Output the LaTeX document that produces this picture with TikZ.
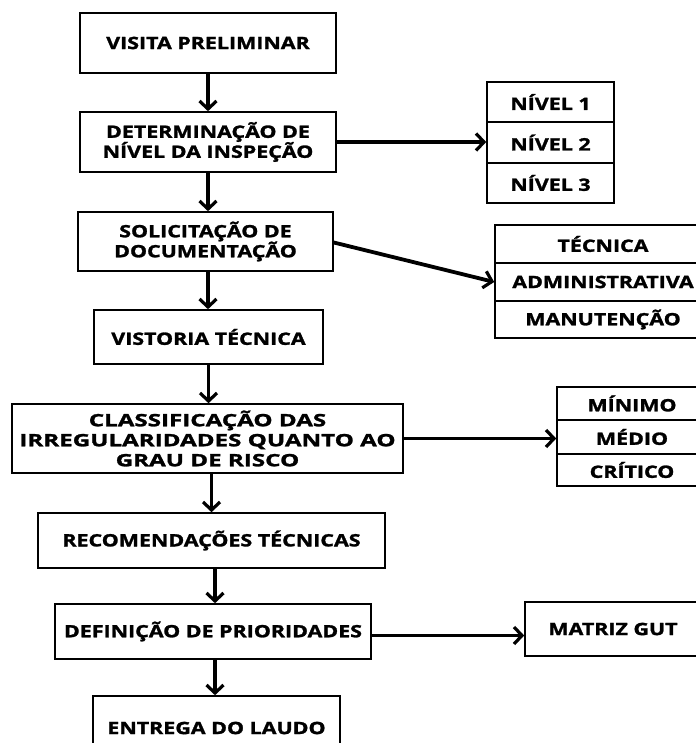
\documentclass[tikz,border=0pt]{standalone}
\usepackage{fontspec}
\setmainfont{Open Sans}[BoldFeatures={FakeStretch=1.26,FakeBold=1.6}]
\newfontfamily\widefont{Open Sans}[BoldFeatures={FakeStretch=1.42,FakeBold=1.6}]
\usetikzlibrary{arrows.meta}
\begin{document}
\begin{tikzpicture}[x=1pt,y=-1pt,
  box/.style={draw=black, line width=1.6pt, fill=white, align=center, inner sep=0pt,
    font=\fontsize{17}{20}\selectfont\bfseries},
  widebox/.style={box, font=\widefont\fontsize{17}{20}\selectfont\bfseries},
  flow/.style={line width=3.8pt, -{Straight Barb[length=8pt,width=17pt,line width=3.2pt]}}]
\useasboundingbox (0,0) rectangle (695,743);
\fill[white] (0,0) rectangle (695,743);
% main column
\node[box, minimum width=256pt, minimum height=60pt] (b1) at (208,43) {VISITA PRELIMINAR};
\node[box, minimum width=256pt, minimum height=60pt] (b2) at (208,142) {DETERMINAÇÃO DE\\NÍVEL DA INSPEÇÃO};
\node[box, minimum width=255pt, minimum height=59pt] (b3) at (205.5,241.5) {SOLICITAÇÃO DE\\DOCUMENTAÇÃO};
\node[box, minimum width=229pt, minimum height=54pt] (b4) at (208.5,337) {VISTORIA TÉCNICA};
\node[widebox, minimum width=391pt, minimum height=69pt] (b5) at (207.5,438.5) {CLASSIFICAÇÃO DAS\\IRREGULARIDADES QUANTO AO\\GRAU DE RISCO};
\node[box, minimum width=347pt, minimum height=55pt] (b6) at (211.5,540.5) {RECOMENDAÇÕES TÉCNICAS};
\node[box, minimum width=316pt, minimum height=55pt] (b7) at (213,631.5) {DEFINIÇÃO DE PRIORIDADES};
\node[box, minimum width=247pt, minimum height=64pt] (b8) at (216.5,728) {ENTREGA DO LAUDO};
% side groups
\node[box, minimum width=127pt, minimum height=40.5pt] (n1) at (550.5,102) {NÍVEL 1};
\node[box, minimum width=127pt, minimum height=40.5pt] (n2) at (550.5,142.5) {NÍVEL 2};
\node[box, minimum width=127pt, minimum height=40.5pt] (n3) at (550.5,183) {NÍVEL 3};
\node[box, minimum width=216pt, minimum height=38pt] (t1) at (603,244) {TÉCNICA};
\node[box, minimum width=216pt, minimum height=38pt] (t2) at (603,282) {ADMINISTRATIVA};
\node[box, minimum width=216pt, minimum height=37pt] (t3) at (603,319.5) {MANUTENÇÃO};
\node[box, minimum width=150pt, minimum height=33pt] (m1) at (632,403.5) {MÍNIMO};
\node[box, minimum width=150pt, minimum height=34pt] (m2) at (632,437) {MÉDIO};
\node[box, minimum width=150pt, minimum height=32pt] (m3) at (632,470) {CRÍTICO};
\node[box, minimum width=176pt, minimum height=54pt] (mg) at (613,629) {MATRIZ GUT};
% connectors
\draw[flow] (b1.south) -- (b2.north);
\draw[flow] (b2.south) -- (b2.south |- b3.north);
\draw[flow] (b3.south -| b2.south) -- (b2.south |- b4.north);
\draw[flow] (b4.south) -- (b4.south |- b5.north);
\draw[flow] ([xshift=4pt]b5.south) -- ([xshift=4pt]b5.south |- b6.north);
\draw[flow] ([xshift=3.5pt]b6.south) -- ([xshift=3.5pt]b6.south |- b7.north);
\draw[flow] ([xshift=2pt]b7.south) -- ([xshift=2pt]b7.south |- b8.north);
\draw[flow] (b2.east) -- (b2.east -| n2.west);
\draw[flow] ([yshift=-1pt]b3.east) -- (t2.west);
\draw[flow] (b5.east) -- (b5.east -| m2.west);
\draw[flow] ([yshift=-4pt]b7.east) -- ([yshift=-4pt]b7.east -| mg.west);
\end{tikzpicture}
\end{document}
